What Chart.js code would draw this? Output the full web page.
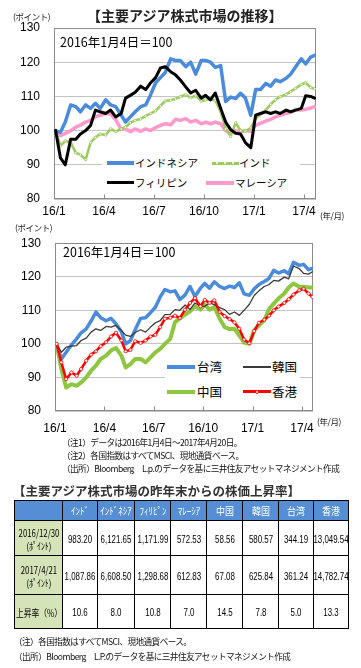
<!DOCTYPE html>
<html><head><meta charset="utf-8">
<script src="https://cdn.jsdelivr.net/npm/chart.js@4.4.1/dist/chart.umd.min.js"></script>
<style>
html,body{margin:0;padding:0;background:#fff;}
body{width:361px;height:668px;position:relative;overflow:hidden;font-family:"Noto Sans CJK JP","Noto Sans",sans-serif;color:#000;}
.a{position:absolute;white-space:nowrap;}
.ttl{font-size:14px;line-height:16px;font-weight:bold;color:#222;}
.unit{font-size:8.5px;line-height:10px;letter-spacing:-0.4px;color:#222;}
.ann{font-size:12.5px;line-height:14px;}
.lg{position:absolute;background:#fff;}
.ln{position:absolute;}
.lt1{font-size:10.5px;line-height:12px;}
.lt2{font-size:12.5px;line-height:14px;}
.note{font-size:8.6px;line-height:10px;letter-spacing:-0.55px;color:#111;}
.dot{position:absolute;width:3px;height:3px;border-radius:50%;background:#fff;}
table{position:absolute;left:14px;top:500px;border-collapse:collapse;table-layout:fixed;width:335px;}
td{border:1px solid #000;padding:0;position:relative;}
td span{position:absolute;left:50%;top:52%;transform:translate(-50%,-50%) scaleX(0.72);white-space:nowrap;font-family:"Liberation Sans",sans-serif;font-size:11px;line-height:14px;text-align:center;}
tr.h td{height:19px;background:#558ED5;}
tr.h td span{color:#fff;font-family:"Noto Sans CJK JP",sans-serif;font-size:10px;transform:translate(-50%,-50%) scaleX(0.9);}
td.f{background:#D5E3B8;}
td.f span{font-family:"Noto Sans CJK JP",sans-serif;font-size:10px;line-height:13px;transform:translate(-50%,-50%) scaleX(0.78);}
</style></head>
<body>
<canvas id="c1" width="361" height="225" style="position:absolute;left:0;top:0"></canvas>
<canvas id="c2" width="361" height="216" style="position:absolute;left:0;top:222px"></canvas>

<div class="a ttl" style="left:87px;top:7px">【主要アジア株式市場の推移】</div>
<div class="a unit" style="left:13px;top:11px">(ポイント)</div>
<div class="a ann" style="left:60px;top:35px">2016年1月4日＝100</div>
<div class="a unit" style="left:320px;top:210px">(年/月)</div>

<div class="lg" style="left:102px;top:153px;width:198px;height:40px"></div>
<div class="ln" style="left:107px;top:161px;width:27px;height:4px;background:#4A8CDB"></div>
<div class="a lt1" style="left:135px;top:157px">インドネシア</div>
<div class="ln" style="left:212px;top:162px;width:27px;height:3px;background:#9BCB5B"></div>
<div class="dot" style="left:216px;top:162px;width:2px;height:2px"></div>
<div class="dot" style="left:224px;top:162px;width:2px;height:2px"></div>
<div class="dot" style="left:232px;top:162px;width:2px;height:2px"></div>
<div class="a lt1" style="left:239px;top:157px">インド</div>
<div class="ln" style="left:107px;top:181px;width:27px;height:3px;background:#000"></div>
<div class="a lt1" style="left:135px;top:177px">フィリピン</div>
<div class="ln" style="left:206px;top:181px;width:28px;height:4px;background:#FF99CC"></div>
<div class="a lt1" style="left:235px;top:177px">マレーシア</div>

<div class="a unit" style="left:15px;top:222px">(ポイント)</div>
<div class="a ann" style="left:63px;top:245px">2016年1月4日＝100</div>
<div class="a unit" style="left:317px;top:416px">(年/月)</div>

<div class="lg" style="left:165px;top:355px;width:135px;height:50px"></div>
<div class="ln" style="left:167px;top:365px;width:28px;height:4px;background:#4A8CDB"></div>
<div class="a lt2" style="left:197px;top:360px">台湾</div>
<div class="ln" style="left:243px;top:366px;width:28px;height:2px;background:#3A3A3A"></div>
<div class="a lt2" style="left:272px;top:360px">韓国</div>
<div class="ln" style="left:167px;top:390px;width:28px;height:4px;background:#8DC63F"></div>
<div class="a lt2" style="left:197px;top:385px">中国</div>
<div class="ln" style="left:243px;top:390px;width:28px;height:3px;background:#FF0000"></div>
<div class="dot" style="left:255px;top:390px;border:0.5px solid #f00;width:2px;height:2px"></div>
<div class="a lt2" style="left:272px;top:385px">香港</div>

<div class="a note" style="left:62px;top:437px">（注1）データは2016年1月4日～2017年4月20日。</div>
<div class="a note" style="left:62px;top:450px">（注2）各国指数はすべてMSCI、現地通貨ベース。</div>
<div class="a note" style="left:62px;top:463px">（出所）Bloomberg　L.p.のデータを基に三井住友アセットマネジメント作成</div>

<div class="a ttl" style="left:13px;top:483px;font-size:12.5px;line-height:15px;color:#333">【主要アジア株式市場の昨年末からの株価上昇率】</div>

<table id="tbl">
<colgroup><col style="width:48px"><col style="width:35px"><col style="width:37px"><col style="width:36px"><col style="width:36px"><col style="width:36px"><col style="width:36px"><col style="width:35px"><col style="width:35px"></colgroup>
<tbody id="tb"></tbody>
</table>

<div class="a note" style="left:14px;top:636px">（注）各国指数はすべてMSCI、現地通貨ベース。</div>
<div class="a note" style="left:14px;top:651px">（出所）Bloomberg　L.P.のデータを基に三井住友アセットマネジメント作成</div>

<script>
// ---- data (both charts share the observation dates) ----
const dates = ["2016-01-04","2016-01-13","2016-01-22","2016-02-01","2016-02-10","2016-02-18","2016-02-27",
"2016-03-07","2016-03-16","2016-03-25","2016-04-04","2016-04-13","2016-04-22","2016-05-02","2016-05-10",
"2016-05-19","2016-05-28","2016-06-07","2016-06-16","2016-06-25","2016-07-04","2016-07-13","2016-07-22",
"2016-08-01","2016-08-10","2016-08-19","2016-08-29","2016-09-07","2016-09-16","2016-09-26","2016-10-04",
"2016-10-13","2016-10-22","2016-11-01","2016-11-10","2016-11-19","2016-11-28","2016-12-07","2016-12-16",
"2016-12-26","2017-01-04","2017-01-13","2017-01-23","2017-02-01","2017-02-09","2017-02-17","2017-02-27",
"2017-03-07","2017-03-16","2017-03-27","2017-04-04","2017-04-13","2017-04-20"];

const indonesia = [100,99.5,102.5,107.5,107,105.5,107.5,106.5,108,106.5,109,107.5,107,104.5,102.5,104,105.5,107,107.5,110.5,114,115.5,117,121,120.5,120.5,118.7,120,116.5,120.5,120.5,120,118.5,119,108.5,109.8,109.4,110.9,109.5,104.5,112,112,113.8,113,114.8,114.3,115.3,116.5,118.5,121,119.5,121.5,122];
const india = [100,95.5,97,96.5,93.5,93,91.5,96.5,98,99,98.7,100.5,99.7,100.5,101,102.3,103,103.4,104.3,105,105.8,107.2,108.7,108.9,109.3,109.9,110.5,109.6,110.2,108.6,109,109.2,108.8,105.5,100.5,98.3,102.3,100,99.8,100.8,103.5,104.7,106,107.7,109,109.9,110.6,111.4,112.3,113.5,114,112.6,112.2];
const philippines = [100,92,90,97.5,97.5,99,100,101.5,106,105.5,105,106,104,105,109.5,110.3,111.2,113,112,114,115.5,118.3,118.7,117.2,116.3,114.8,112.8,111,111.8,109.5,110.3,109,111,106.5,102.5,100.3,99.2,99,96.5,95,104.5,105,105.5,105,105.5,105,106,105.5,106,106.5,110.2,110,109.5];
const malaysia = [100,98.5,99.2,100,101,101.6,102.5,103,104,104.5,105,104.8,103.2,100.3,100.5,99.7,100.5,99.8,100.5,100,100.9,101.5,102,101.7,103.3,103,103.5,102.5,103,102,102.5,102,102.5,102,100,99.6,100,99.6,100,99.8,101.5,102.2,102.8,103.3,104,104.5,105,105.4,106,106,106.2,106.6,107];

const taiwan = [100,95.5,97.5,99.7,101.5,103.3,104.5,106.8,109.5,107.8,106.9,107.6,106,103.6,100,101,104.2,107.6,107.8,109.3,110.9,114,116.2,115.5,115.8,113.2,114.6,117.1,114.1,116.6,118,116.6,118.5,117.1,116.5,117.2,116.8,118.2,114.9,114.5,116.4,117.7,118.6,119.5,121.9,121.1,121.8,120.9,124.3,123.4,123.7,122.1,122.5];
const korea = [100,97.5,99,99.3,99.5,101,101.7,103.5,104.5,104,105.2,105,105.5,104,102.6,102.2,103.4,104.2,103.5,105,106.3,106.9,108.7,108.8,110.2,110,111.6,110.2,112.2,111.2,111.2,112.2,111.7,110.8,110.2,108.8,109.5,108.5,110,111.8,114.4,115.8,117.1,117.7,118.9,118.7,119.9,119.4,123.2,122.4,121,120.8,121.5];
const china = [100,92.5,87,88,87.5,88.5,90,92,93.5,95.5,96.5,98,98.8,96.5,93,94,95.5,95.5,94.5,96,97.5,98.5,100,101.5,106.5,107.6,108.7,109.7,111.2,110.2,111.7,110.2,111,107.5,105,104.4,104.5,102.5,100.4,100,104,105.5,107,110.4,112,113.5,115,116.8,118,117,117,116.8,116.8];
const hongkong = [100,94.5,89.5,91.5,90.5,92.5,95,96.8,97.8,99.3,100.5,102.2,103.3,101,97.8,98.2,100.8,100.3,101,102.2,102.7,105,107.5,107.8,108.4,107.7,110.2,112.2,113.6,111.2,113.1,112.2,113,109.5,108.3,107.4,106.4,104.5,101.3,100.2,103.8,106.3,107.2,108.4,110,111.1,112.2,113.3,114.7,116,116.4,115,114];

const tickMonths = [0,3,6,9,12,15];
const tickLabels = ["16/1","16/4","16/7","16/10","17/1","17/4"];
const yTicks = [80,90,100,110,120,130];

// ---- table data ----
const marketNames = ["ｲﾝﾄﾞ","ｲﾝﾄﾞﾈｼｱ","ﾌｨﾘﾋﾟﾝ","ﾏﾚｰｼｱ","中国","韓国","台湾","香港"];
const rowLabels = ["2016/12/30<br>(ﾎﾟｲﾝﾄ)","2017/4/21<br>(ﾎﾟｲﾝﾄ)","上昇率（%）"];
const end2016 = ["983.20","6,121.65","1,171.99","572.53","58.56","580.57","344.19","13,049.54"];
const apr2017 = ["1,087.86","6,608.50","1,298.68","612.83","67.08","625.84","361.24","14,782.74"];
const riseRate = ["10.6","8.0","10.8","7.0","14.5","7.8","5.0","13.3"];

// ---- table ----
(function(){
  const tb = document.getElementById('tb');
  const rowH = [35,39,34];
  let html = '<tr class="h"><td></td>' + marketNames.map(n=>'<td><span>'+n+'</span></td>').join('') + '</tr>';
  [end2016, apr2017, riseRate].forEach((arr,r)=>{
    html += '<tr style="height:'+rowH[r]+'px"><td class="f"><span>'+rowLabels[r]+'</span></td>' +
      arr.map(v=>'<td><span>'+v+'</span></td>').join('') + '</tr>';
  });
  tb.innerHTML = html;
})();

// ---- charts ----
function monthPos(s){
  const [y,m,d] = s.split('-').map(Number);
  const dim = new Date(y, m, 0).getDate();
  return (y-2016)*12 + (m-1) + (d-1)/dim;
}
const xs = dates.map(monthPos);
const pts = arr => arr.map((v,i)=>({x:xs[i], y:v}));

const frame = {
  id:'frame',
  beforeDatasetsDraw(chart){
    const {ctx, chartArea:a, scales:{x}} = chart;
    ctx.save();
    ctx.strokeStyle = '#8a8a8a';
    ctx.lineWidth = 1;
    const L = Math.round(a.left)+0.5, T = Math.round(a.top)+0.5;
    const R = Math.round(a.right)-0.5, B = Math.round(a.bottom)-0.5;
    ctx.strokeRect(L, T, R-L, B-T);
    ctx.beginPath();
    tickMonths.forEach(m=>{
      const px = Math.round(x.getPixelForValue(m))+0.5;
      ctx.moveTo(px, B); ctx.lineTo(px, B-4);
    });
    ctx.stroke();
    ctx.restore();
  }
};

function makeChart(id, datasets, o){
  return new Chart(document.getElementById(id), {
    type:'line',
    data:{datasets},
    plugins:[frame],
    options:{
      responsive:false, animation:false, events:[],
      layout:{padding:{left:0,right:o.padRight,top:o.padTop,bottom:0}},
      plugins:{legend:{display:false}, tooltip:{enabled:false}},
      elements:{line:{tension:0, borderJoinStyle:'round', borderCapStyle:'round'}},
      scales:{
        x:{type:'linear', min:0, max:o.xMax,
          afterBuildTicks:s=>{ s.ticks = tickMonths.map(v=>({value:v})); },
          afterFit:s=>{ s.height = o.xHeight; },
          ticks:{autoSkip:false, maxRotation:0, padding:o.labelPad, color:'#000',
            font:{family:'"Liberation Sans", Arial, sans-serif', size:12},
            callback:(v,i)=>tickLabels[i]},
          grid:{display:false, drawTicks:false},
          border:{display:false}
        },
        y:{min:80, max:130,
          afterBuildTicks:s=>{ s.ticks = yTicks.map(v=>({value:v})); },
          afterFit:s=>{ s.width = o.yWidth; },
          ticks:{padding:14, color:'#000', font:{family:'"Liberation Sans", Arial, sans-serif', size:12}},
          grid:{color:'#C4C4C4', lineWidth:1, drawTicks:false},
          border:{display:false}
        }
      }
    }
  });
}

makeChart('c1', [
  {data:pts(philippines), borderColor:'#000000', borderWidth:3, pointRadius:0},
  {data:pts(indonesia), borderColor:'#4A8CDB', borderWidth:3.5, pointRadius:0},
  {data:pts(india), borderColor:'#9BCB5B', borderWidth:2.5, pointRadius:1.2, pointBackgroundColor:'#ffffff', pointBorderColor:'#9BCB5B', pointBorderWidth:0.8},
  {data:pts(malaysia), borderColor:'#FF99CC', borderWidth:3.5, pointRadius:0}
], {padRight:45, padTop:28, xHeight:26, yWidth:54, xMax:15.72, labelPad:5});

makeChart('c2', [
  {data:pts(hongkong), borderColor:'#FF0000', borderWidth:2.5, pointRadius:1.6, pointBackgroundColor:'#ffffff', pointBorderColor:'#FF0000', pointBorderWidth:0.8},
  {data:pts(korea), borderColor:'#3A3A3A', borderWidth:1.3, pointRadius:0},
  {data:pts(china), borderColor:'#8DC63F', borderWidth:4, pointRadius:0},
  {data:pts(taiwan), borderColor:'#4A8CDB', borderWidth:3.5, pointRadius:0}
], {padRight:48, padTop:20, xHeight:27, yWidth:55, xMax:15.67, labelPad:10});
</script>
</body></html>
